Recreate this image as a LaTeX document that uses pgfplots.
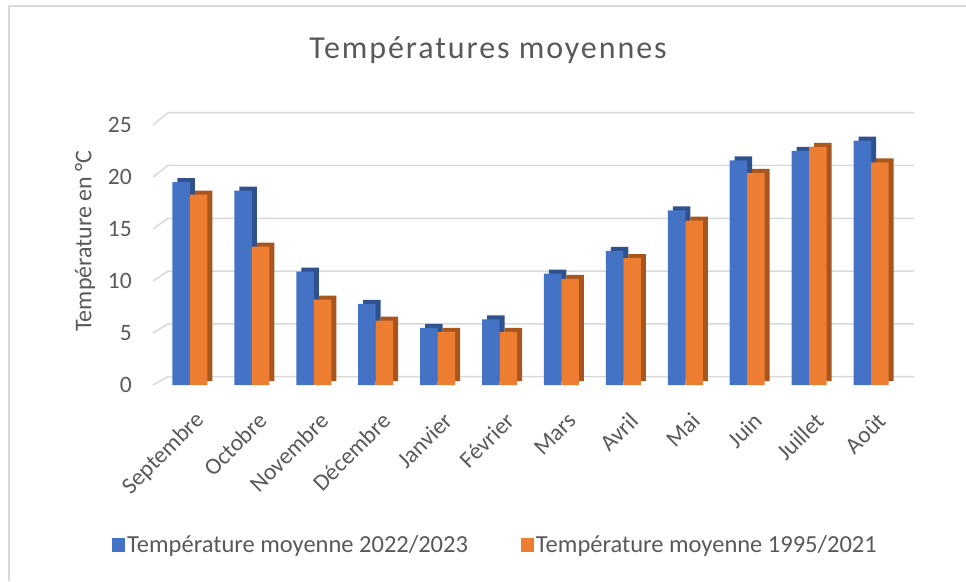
\documentclass[border=0pt]{standalone}
\usepackage{fontspec}
\setmainfont{Carlito}
\newfontfamily\titlefont[LetterSpace=6]{Carlito}
\usepackage{pgfplots}
\pgfplotsset{compat=1.18}
\definecolor{cblue}{HTML}{4472C4}
\definecolor{corange}{HTML}{ED7D31}
\definecolor{dblue}{HTML}{2F528F}
\definecolor{dorange}{HTML}{A9561E}
\definecolor{txt}{HTML}{595959}
\definecolor{gridc}{HTML}{D9D9D9}
\begin{document}
\begin{tikzpicture}[x=1pt,y=1pt]
\useasboundingbox (0,0) rectangle (966,581);
\draw[gridc, line width=1.5pt] (9,0) -- (9,575) -- (966,575);
\node[txt, font=\titlefont\fontsize{32}{36}\selectfont, anchor=base] at (488,522) {Températures moyennes};
\node[txt, font=\fontsize{24}{28}\selectfont, rotate=90] at (85,340) {Température en °C};
\begin{axis}[
  at={(159pt,196pt)}, anchor=south west, scale only axis,
  width=743pt, height=260pt,
  xmin=-0.5, xmax=11.5, ymin=0, ymax=25, clip=false,
  axis line style={draw=none}, major tick length=0pt,
  xtick={0,...,11},
  xticklabels={Septembre,Octobre,Novembre,Décembre,Janvier,Février,Mars,Avril,Mai,Juin,Juillet,Août},
  ytick={0,5,...,25},
  ticklabel style={txt, font=\fontsize{23.5}{27}\selectfont},
  /pgf/number format/assume math mode=true,
  xticklabel style={rotate=45, anchor=east, inner sep=0pt, xshift=-15pt, yshift=-30pt},
  yticklabel style={anchor=east, inner sep=0pt, xshift=-27pt},
  legend columns=2,
  legend cell align=left,
  legend style={at={(-0.0633,-0.615)}, anchor=west, draw=none, fill=none,
    inner sep=0pt, font=\fontsize{24.5}{28}\selectfont, text=txt,
    /tikz/every even column/.append style={column sep=51pt}},
]
\draw[gridc, line width=1.5pt] (axis cs:-0.597,0) -- (axis cs:-0.355,0.8) -- (axis cs:11.694,0.8);
\draw[gridc, line width=1.5pt] (axis cs:-0.597,5) -- (axis cs:-0.355,5.88) -- (axis cs:11.694,5.88);
\draw[gridc, line width=1.5pt] (axis cs:-0.597,10) -- (axis cs:-0.355,10.95) -- (axis cs:11.694,10.95);
\draw[gridc, line width=1.5pt] (axis cs:-0.597,15) -- (axis cs:-0.355,16.03) -- (axis cs:11.694,16.03);
\draw[gridc, line width=1.5pt] (axis cs:-0.597,20) -- (axis cs:-0.355,21.11) -- (axis cs:11.694,21.11);
\draw[gridc, line width=1.5pt] (axis cs:-0.597,25) -- (axis cs:-0.355,26.18) -- (axis cs:11.694,26.18);
% 2022/2023
\addplot[ybar, bar width=17.5pt, bar shift=-3.75pt, yshift=4pt, fill=dblue, draw=none, forget plot]
 coordinates {(0,19.5) (1,18.7) (2,10.9) (3,7.8) (4,5.5) (5,6.3) (6,10.7) (7,12.9) (8,16.8) (9,21.6) (10,22.5) (11,23.5)};
\addplot[ybar, bar width=17.5pt, bar shift=-8.75pt, fill=cblue, draw=none,
  legend image code/.code={\fill[cblue] (0pt,-7pt) rectangle (13pt,7pt);}]
 coordinates {(0,19.5) (1,18.7) (2,10.9) (3,7.8) (4,5.5) (5,6.3) (6,10.7) (7,12.9) (8,16.8) (9,21.6) (10,22.5) (11,23.5)};
\addlegendentry{Température moyenne 2022/2023}
% 1995/2021
\addplot[ybar, bar width=17.5pt, bar shift=13.75pt, yshift=4pt, fill=dorange, draw=none, forget plot]
 coordinates {(0,18.3) (1,13.3) (2,8.2) (3,6.2) (4,5.1) (5,5.1) (6,10.2) (7,12.2) (8,15.8) (9,20.4) (10,22.9) (11,21.4)};
\addplot[ybar, bar width=17.5pt, bar shift=8.75pt, fill=corange, draw=none,
  legend image code/.code={\fill[corange] (0pt,-7pt) rectangle (13pt,7pt);}]
 coordinates {(0,18.3) (1,13.3) (2,8.2) (3,6.2) (4,5.1) (5,5.1) (6,10.2) (7,12.2) (8,15.8) (9,20.4) (10,22.9) (11,21.4)};
\addlegendentry{Température moyenne 1995/2021}
\end{axis}
\end{tikzpicture}
\end{document}
